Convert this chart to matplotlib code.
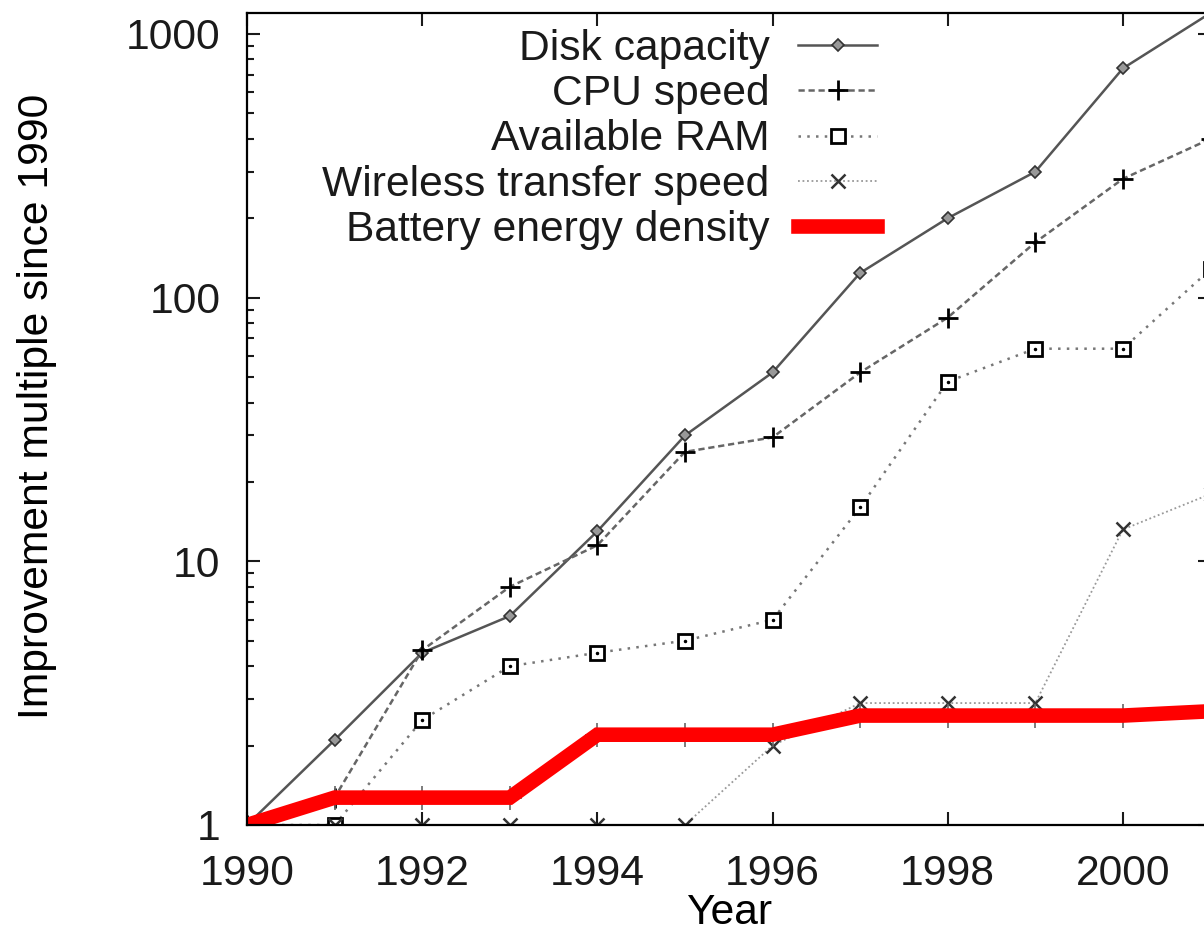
import matplotlib
matplotlib.use("Agg")
import matplotlib.pyplot as plt
from matplotlib.ticker import LogLocator, FixedLocator, FixedFormatter, NullFormatter

years = list(range(1990, 2002))
disk = [1, 2.1, 4.5, 6.2, 13, 30, 52, 124, 200, 300, 740, 1200]
cpu = [1, 1.27, 4.6, 8.0, 11.5, 26, 29.5, 52, 84, 162, 282, 400]
ram = [1, 1, 2.5, 4, 4.5, 5, 6, 16, 48, 64, 64, 128]
wireless = [1, 1, 1, 1, 1, 1, 2.0, 2.9, 2.9, 2.9, 13.2, 18]
battery = [1, 1.27, 1.27, 1.27, 2.2, 2.2, 2.2, 2.6, 2.6, 2.6, 2.6, 2.7]
names = ["Disk capacity", "CPU speed", "Available RAM",
         "Wireless transfer speed", "Battery energy density"]
xticks = [1990, 1992, 1994, 1996, 1998, 2000]
yticks = [1, 10, 100, 1000]
ytick_labels = ["1", "10", "100", "1000"]

plt.rcParams['font.family'] = ['Liberation Sans', 'DejaVu Sans']
plt.rcParams['font.size'] = 30.7
plt.rcParams['text.color'] = '#1a1a1a'
plt.rcParams['xtick.color'] = '#1a1a1a'
plt.rcParams['ytick.color'] = '#1a1a1a'

fig = plt.figure(figsize=(12.04, 9.31), dpi=100)
ax = fig.add_axes([247 / 1204, 106 / 931, 963.5 / 1204, 812 / 931])

ax.plot(years, disk, color='#555555', lw=1.8, ls='-', marker='D', ms=6.5,
        mfc='#999999', mec='#333333', mew=1.2, label=names[0])
ax.plot(years, cpu, color='#666666', lw=1.8, ls=(0, (2.5, 1.5)), marker='+',
        ms=14, mec='black', mew=2, label=names[1])
ax.plot(years, ram, color='#777777', lw=1.8, ls=(0, (1, 2.5)), marker='s',
        ms=10, mfc='white', mec='black', mew=2, label=names[2])
# little dot inside each square, as gnuplot draws it
ax.plot(years, ram, ls='none', marker='.', ms=3, color='black')
ax.plot(years, wireless, color='#999999', lw=1.3, ls=(0, (1, 1.5)), marker='x',
        ms=10, mec='#333333', mew=1.8, label=names[3])
# battery points sit under the thick red line
ax.plot(years, battery, ls='none', marker='+', ms=17, mec='#666666', mew=1.2)
ax.plot(years, battery, color='#ff0000', lw=10.5, solid_joinstyle='miter',
        label=names[4])

ax.set_yscale('log')
ax.set_xlim(1990, 2001)
ax.set_ylim(1, 1200)
ax.xaxis.set_major_locator(FixedLocator(xticks))
ax.yaxis.set_major_locator(FixedLocator(yticks))
ax.yaxis.set_major_formatter(FixedFormatter(ytick_labels))
ax.yaxis.set_minor_locator(LogLocator(base=10, subs=range(2, 10)))
ax.yaxis.set_minor_formatter(NullFormatter())

for s in ax.spines.values():
    s.set_linewidth(1.6)
ax.tick_params(which='both', direction='in', top=True, right=True, width=1.5)
ax.tick_params(which='major', length=9.5)
ax.tick_params(which='minor', length=5)
ax.tick_params(axis='x', pad=21)
ax.tick_params(axis='y', pad=19)

ax.set_xlabel("Year", labelpad=-1)
ax.set_ylabel("Improvement multiple since 1990", labelpad=50)
ax.yaxis.label.set_y(0.515)

leg = ax.legend(loc='upper right', bbox_to_anchor=(0.654, 0.98),
                markerfirst=False, frameon=False, handlelength=1.85,
                handletextpad=0.67, labelspacing=0.12, borderpad=0,
                borderaxespad=0)

fig.savefig("out.png", dpi=100)
